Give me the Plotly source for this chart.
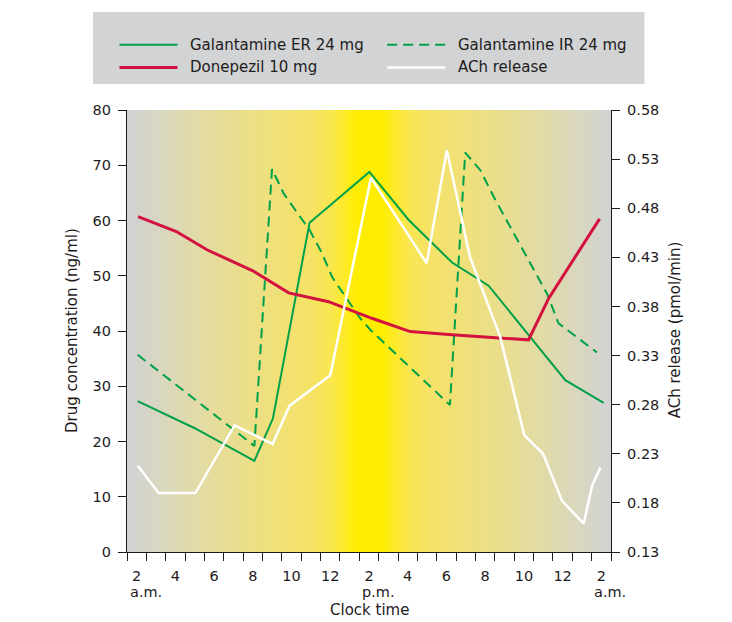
import numpy as np
import plotly.graph_objects as go

# ---- data (hours after 2 a.m.) ----
x_ticks = list(range(0, 25, 2))
x_ticktext = ["2", "4", "6", "8", "10", "12", "2", "4", "6", "8", "10", "12", "2"]

er_t = [0.05, 3.0, 6.08, 7.04, 8.93, 12.02, 14.05, 16.29, 18.18, 22.14, 24.12]
er_v = [27.3, 22.4, 16.5, 24.2, 59.6, 68.8, 60.1, 52.4, 48.2, 31.1, 27.0]

ir_t = [0.05, 6.08, 6.99, 7.59, 8.19, 8.93, 9.57, 10.09, 10.78, 11.55, 12.07,
        16.18, 16.97, 17.75, 18.44, 19.3, 20.33, 21.19, 21.79, 22.23, 23.78]
ir_v = [35.7, 19.2, 69.3, 64.9, 61.9, 58.3, 54.1, 49.8, 46.2, 42.3, 40.2,
        26.6, 72.3, 69.1, 64.3, 58.9, 52.3, 46.8, 41.4, 40.2, 36.1]

don_t = [0.07, 2.05, 3.63, 6.0, 7.85, 9.91, 12.15, 14.13, 16.29, 20.24, 21.28, 23.91]
don_v = [60.7, 58.0, 54.7, 50.9, 46.9, 45.3, 42.3, 39.9, 39.3, 38.4, 45.9, 60.3]

ach_t = [0.05, 1.13, 3.03, 5.06, 7.02, 7.90, 10.0, 12.1, 14.98, 16.02, 17.22,
         18.78, 20.02, 20.99, 21.97, 23.09, 23.52, 23.95]
ach_v = [0.218, 0.190, 0.190, 0.259, 0.240, 0.279, 0.310, 0.511, 0.424, 0.539, 0.430,
         0.349, 0.249, 0.230, 0.182, 0.159, 0.197, 0.216]

# ---- style ----
GREEN = "#00a04b"
RED = "#d3123f"
TXT = "#1e1b1c"
FONT = "DejaVu Sans"

OFF = 8                      # default page body margin
W, H = 732 - OFF, 622 - OFF  # figure size
L, R, T, B = 127, 610.7, 110, 552   # plot area in page pixels


def px(x):
    return (x - L) / (R - L)


def py(y):
    return (B - y) / (B - T)


fig = go.Figure()

# background gradient (yellow at 2 p.m., grey towards night)
gx = np.linspace(-0.7, 24.7, 300)
gz = np.abs(gx - 12.0)
fig.add_trace(go.Heatmap(
    x=gx, y=[0, 80], z=[gz, gz], zmin=0, zmax=12.5, zsmooth="best",
    colorscale=[[0.0, "#ffed00"], [0.05, "#ffed00"], [0.1, "#feea24"],
                [0.16, "#fae650"], [0.25, "#f5e267"], [0.4, "#efe07b"],
                [0.55, "#e9de8f"], [0.7, "#e2dba4"], [0.86, "#d9d7bf"],
                [1.0, "#d1d2d5"]],
    showscale=False, hoverinfo="skip"))

fig.add_trace(go.Scatter(x=ach_t, y=ach_v, yaxis="y2", mode="lines",
                         line=dict(color="white", width=2.5), name="ACh release"))
fig.add_trace(go.Scatter(x=er_t, y=er_v, mode="lines",
                         line=dict(color=GREEN, width=2), name="Galantamine ER 24 mg"))
fig.add_trace(go.Scatter(x=ir_t, y=ir_v, mode="lines",
                         line=dict(color=GREEN, width=2, dash="10px,6px"),
                         name="Galantamine IR 24 mg"))
fig.add_trace(go.Scatter(x=don_t, y=don_v, mode="lines",
                         line=dict(color=RED, width=3), name="Donepezil 10 mg"))

fig.update_layout(
    width=W, height=H,
    margin=dict(l=L - OFF, r=W - (R - OFF), t=T - OFF, b=H - (B - OFF), autoexpand=False),
    paper_bgcolor="white", plot_bgcolor="white", showlegend=False,
    font=dict(family=FONT, size=14.5, color=TXT),
    xaxis=dict(range=[-0.5, 24.5], tickvals=x_ticks, ticktext=x_ticktext,
               ticks="", showgrid=False, zeroline=False, showline=True,
               linecolor=TXT, linewidth=1.3, ticklabelstandoff=10,
               minor=dict(tickvals=[i - 0.5 for i in range(26)], ticks="outside",
                          ticklen=8, tickcolor=TXT, tickwidth=1.3, showgrid=False)),
    yaxis=dict(range=[0, 80], dtick=10, tick0=0, ticks="outside", ticklen=8,
               tickcolor=TXT, tickwidth=1.3, showgrid=False, zeroline=False,
               showline=True, linecolor=TXT, linewidth=1.3, ticklabelstandoff=4),
    yaxis2=dict(range=[0.13, 0.58], tick0=0.13, dtick=0.05, tickformat=".2f",
                overlaying="y", side="right", ticks="outside", ticklen=8,
                tickcolor=TXT, tickwidth=1.3, showgrid=False, zeroline=False,
                showline=True, linecolor=TXT, linewidth=1.3, ticklabelstandoff=4),
)

# legend box and entries
shapes = [dict(type="rect", xref="paper", yref="paper", x0=px(93), x1=px(644),
               y0=py(84), y1=py(12), fillcolor="#d1d3d4", line=dict(width=0), layer="below")]
annots = []
entries = [
    (119.5, 44.8, "Galantamine ER 24 mg", dict(color=GREEN, width=2)),
    (387, 44.8, "Galantamine IR 24 mg", dict(color=GREEN, width=2, dash="10px,6px")),
    (119.5, 67.4, "Donepezil 10 mg", dict(color=RED, width=3)),
    (387, 67.4, "ACh release", dict(color="white", width=2.5)),
]
for x0, yy, label, ln in entries:
    shapes.append(dict(type="line", xref="paper", yref="paper", x0=px(x0), x1=px(x0 + 58),
                       y0=py(yy), y1=py(yy), line=ln))
    annots.append(dict(xref="paper", yref="paper", x=px(x0 + 68.5), y=py(yy),
                       xanchor="left", yanchor="middle", showarrow=False, text=label,
                       font=dict(size=15)))

# axis titles
annots.append(dict(xref="paper", yref="paper", x=px(72), y=py(330), textangle=-90,
                   showarrow=False, text="Drug concentration (ng/ml)", font=dict(size=15),
                   xanchor="center", yanchor="middle"))
annots.append(dict(xref="paper", yref="paper", x=px(675), y=py(330), textangle=-90,
                   showarrow=False, text="ACh release (pmol/min)", font=dict(size=15),
                   xanchor="center", yanchor="middle"))
annots.append(dict(xref="x", yref="paper", x=12, y=py(610), showarrow=False,
                   text="Clock time", font=dict(size=15), xanchor="center", yanchor="middle"))
for xv, t in [(0, "a.m."), (12, "p.m."), (24, "a.m.")]:
    annots.append(dict(xref="x", yref="paper", x=xv, xshift=9, y=py(592), showarrow=False,
                       text=t, font=dict(size=14.5), xanchor="center", yanchor="middle"))

fig.update_layout(shapes=shapes, annotations=annots)
fig.write_html("out.html")
